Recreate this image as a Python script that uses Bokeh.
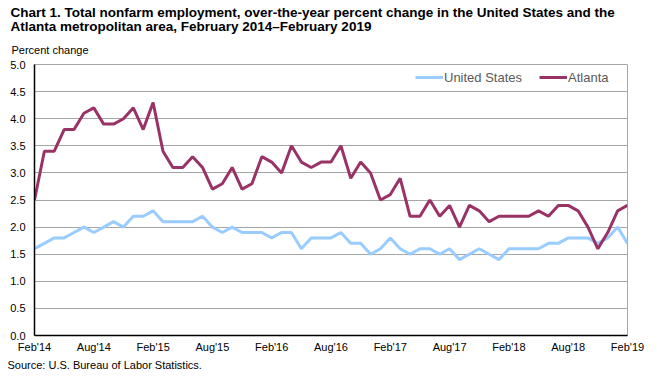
from bokeh.plotting import figure
from bokeh.models import (ColumnDataSource, FixedTicker, Legend, LegendItem, Range1d, Title)
from bokeh.embed import file_html
from bokeh.resources import INLINE

# ---- data ----
months = ["Feb'14", "Mar'14", "Apr'14", "May'14", "Jun'14", "Jul'14", "Aug'14", "Sep'14", "Oct'14", "Nov'14", "Dec'14",
          "Jan'15", "Feb'15", "Mar'15", "Apr'15", "May'15", "Jun'15", "Jul'15", "Aug'15", "Sep'15", "Oct'15", "Nov'15", "Dec'15",
          "Jan'16", "Feb'16", "Mar'16", "Apr'16", "May'16", "Jun'16", "Jul'16", "Aug'16", "Sep'16", "Oct'16", "Nov'16", "Dec'16",
          "Jan'17", "Feb'17", "Mar'17", "Apr'17", "May'17", "Jun'17", "Jul'17", "Aug'17", "Sep'17", "Oct'17", "Nov'17", "Dec'17",
          "Jan'18", "Feb'18", "Mar'18", "Apr'18", "May'18", "Jun'18", "Jul'18", "Aug'18", "Sep'18", "Oct'18", "Nov'18", "Dec'18",
          "Jan'19", "Feb'19"]

united_states = [1.6, 1.7, 1.8, 1.8, 1.9, 2.0, 1.9, 2.0, 2.1, 2.0, 2.2,
                 2.2, 2.3, 2.1, 2.1, 2.1, 2.1, 2.2, 2.0, 1.9, 2.0, 1.9, 1.9,
                 1.9, 1.8, 1.9, 1.9, 1.6, 1.8, 1.8, 1.8, 1.9, 1.7, 1.7, 1.5,
                 1.6, 1.8, 1.6, 1.5, 1.6, 1.6, 1.5, 1.6, 1.4, 1.5, 1.6, 1.5,
                 1.4, 1.6, 1.6, 1.6, 1.6, 1.7, 1.7, 1.8, 1.8, 1.8, 1.7, 1.8,
                 2.0, 1.7]

atlanta = [2.5, 3.4, 3.4, 3.8, 3.8, 4.1, 4.2, 3.9, 3.9, 4.0, 4.2,
           3.8, 4.3, 3.4, 3.1, 3.1, 3.3, 3.1, 2.7, 2.8, 3.1, 2.7, 2.8,
           3.3, 3.2, 3.0, 3.5, 3.2, 3.1, 3.2, 3.2, 3.5, 2.9, 3.2, 3.0,
           2.5, 2.6, 2.9, 2.2, 2.2, 2.5, 2.2, 2.4, 2.0, 2.4, 2.3, 2.1,
           2.2, 2.2, 2.2, 2.2, 2.3, 2.2, 2.4, 2.4, 2.3, 2.0, 1.6, 1.9,
           2.3, 2.4]

x_tick_labels = ["Feb'14", "Aug'14", "Feb'15", "Aug'15", "Feb'16", "Aug'16",
                 "Feb'17", "Aug'17", "Feb'18", "Aug'18", "Feb'19"]
y_tick_values = [0.0, 0.5, 1.0, 1.5, 2.0, 2.5, 3.0, 3.5, 4.0, 4.5, 5.0]
y_tick_labels = ["0.0", "0.5", "1.0", "1.5", "2.0", "2.5", "3.0", "3.5", "4.0", "4.5", "5.0"]

title_lines = ["Chart 1. Total nonfarm employment, over-the-year percent change in the United States and the",
               "Atlanta metropolitan area, February 2014\u2013February 2019"]
y_axis_title = "Percent change"
source_note = "Source: U.S. Bureau of Labor Statistics."

# ---- build ----
idx = list(range(len(months)))
src = ColumnDataSource(dict(x=idx, us=united_states, atl=atlanta, m=months))

FONT = "Liberation Sans"

p = figure(width=657, height=387, output_backend="svg", toolbar_location=None,
           x_range=Range1d(0, len(months) - 1), y_range=Range1d(0, 5),
           min_border_left=34, min_border_right=30, min_border_top=64, min_border_bottom=52)
p.background_fill_color = "white"
p.border_fill_color = "white"
p.outline_line_color = "#A6A6A6"
p.outline_line_width = 1

r_us = p.line("x", "us", source=src, line_color="#99CCFF", line_width=3)
r_atl = p.line("x", "atl", source=src, line_color="#993366", line_width=3)

# axes
x_tick_pos = [months.index(t) for t in x_tick_labels]
p.xaxis.ticker = FixedTicker(ticks=x_tick_pos)
p.xaxis.major_label_overrides = {pos: lab for pos, lab in zip(x_tick_pos, x_tick_labels)}
p.yaxis.ticker = FixedTicker(ticks=y_tick_values)
p.yaxis.major_label_overrides = {v: lab for v, lab in zip(y_tick_values, y_tick_labels)}

for ax in (p.xaxis, p.yaxis):
    ax.axis_line_color = "black"
    ax.axis_line_width = 1.5
    ax.major_tick_line_color = None
    ax.minor_tick_line_color = None
    ax.major_tick_out = 0
    ax.major_tick_in = 0
    ax.major_label_text_font = FONT
    ax.major_label_text_font_size = "11px"
    ax.major_label_text_color = "black"
p.xaxis.major_label_standoff = 5
p.yaxis.major_label_standoff = 9

p.xgrid.grid_line_color = None
p.ygrid.grid_line_color = "#A6A6A6"
p.ygrid.grid_line_width = 1

legend = Legend(items=[LegendItem(label="United States", renderers=[r_us]),
                       LegendItem(label="Atlanta", renderers=[r_atl])],
                orientation="horizontal", location=(381, 250),
                padding=0, margin=0, spacing=17, label_standoff=1,
                glyph_width=28, glyph_height=16, label_height=16,
                label_text_font=FONT, label_text_font_size="13px",
                label_text_color="#595959",
                border_line_color=None, background_fill_alpha=0)
p.add_layout(legend, "center")

# titles (closest to frame first)
p.add_layout(Title(text=y_axis_title, align="left", offset=-23, standoff=18,
                   text_font=FONT, text_font_size="11px", text_font_style="normal",
                   text_color="black"), "above")
p.add_layout(Title(text=title_lines[1], align="left", offset=-24, standoff=-2,
                   text_font=FONT, text_font_size="13.5px", text_font_style="bold",
                   text_color="black"), "above")
p.add_layout(Title(text=title_lines[0], align="left", offset=-24, standoff=-5,
                   text_font=FONT, text_font_size="13.5px", text_font_style="bold",
                   text_color="black"), "above")
p.add_layout(Title(text=source_note, align="left", offset=-27, standoff=2,
                   text_font=FONT, text_font_size="11px", text_font_style="normal",
                   text_color="black"), "below")

open("out.html", "w").write(file_html(p, INLINE))
